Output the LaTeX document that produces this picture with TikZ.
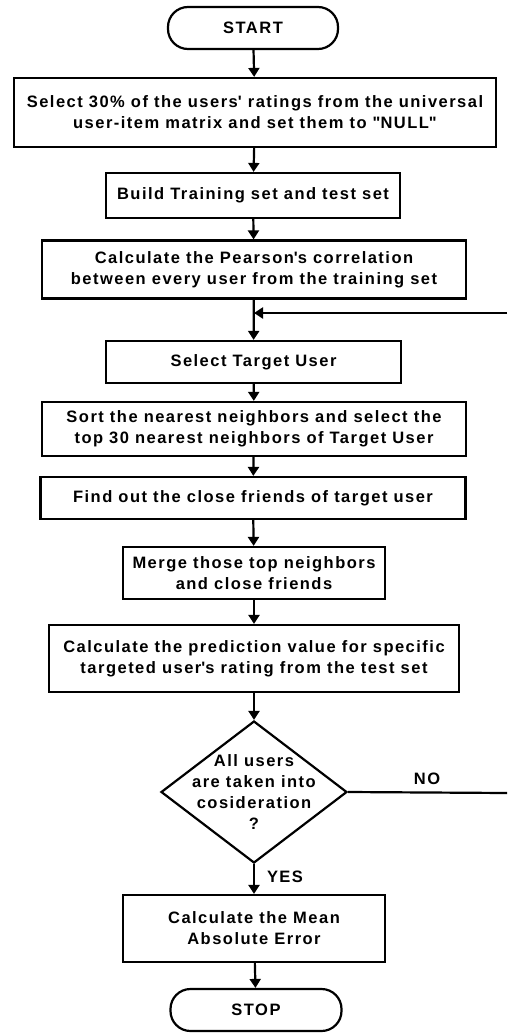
\documentclass[tikz,border=0pt]{standalone}
\usepackage{fontspec}
\setmainfont{Liberation Sans}[LetterSpace=9]
\usetikzlibrary{arrows.meta,shapes}

\tikzset{
  txt/.style={align=center,font=\bfseries\fontsize{16.5}{21}\selectfont},
  box/.style={txt,draw,line width=2.2pt,rectangle,inner sep=0pt},
  term/.style={box,rounded corners=20pt},
  decision/.style={draw,line width=2.2pt,diamond,inner sep=0pt,minimum width=186pt,minimum height=142pt},
  flow/.style={-{Triangle[length=9pt,width=11pt]},line width=2.2pt}
}

\begin{document}
\begin{tikzpicture}[x=1pt,y=-1pt]

\useasboundingbox (0,0) rectangle (507,1036);

  \node[term,minimum width=170pt,minimum height=42pt] (start) at (253,28) {START};
  \node[box,minimum width=482pt,minimum height=69pt] (select) at (255,112.5)
    {Select 30\% of the users\textquotesingle{} ratings from the universal\\user-item matrix and set them to \textquotedbl NULL\textquotedbl};
  \node[box,minimum width=294pt,minimum height=45pt] (build) at (253,195.5) {Build Training set and test set};
  \node[box,minimum width=424pt,minimum height=58pt] (pearson) at (254,269.5)
    {Calculate the Pearson\textquotesingle s correlation\\between every user from the training set};
  \node[box,minimum width=295pt,minimum height=42pt] (target) at (253.5,362) {Select Target User};
  \node[box,minimum width=424pt,minimum height=54pt] (sortnb) at (254,429)
    {Sort the nearest neighbors and select the\\top 30 nearest neighbors of Target User};
  \node[box,minimum width=425pt,minimum height=42pt] (friends) at (253,498) {Find out the close friends of target user};
  \node[box,minimum width=262pt,minimum height=52pt] (merge) at (254,573) {Merge those top neighbors\\and close friends};
  \node[box,minimum width=410pt,minimum height=67pt] (predict) at (254,658.5)
    {Calculate the prediction value for specific\\targeted user\textquotesingle s rating from the test set};
  \node[decision] (allusers) at (254,792) {};
  \node[txt] (allusers-txt) at (allusers) {All users\\are taken into\\cosideration\\?};
  \node[box,minimum width=262pt,minimum height=67pt] (mae) at (254,928.5) {Calculate the Mean\\Absolute Error};
  \node[term,minimum width=171pt,minimum height=42pt] (stop) at (256,1010) {STOP};

  \node[txt] (yes) at (285,877) {YES};
  \node[txt] (no) at (427,779) {NO};

  \coordinate (noend) at (507,793);
  \coordinate (loopin) at (507,313);

    \draw[flow] (start) -- (select);
    \draw[flow] (select) -- (build);
    \draw[flow] (build) -- (pearson);
    \draw[flow] (pearson) -- (target);
    \draw[flow] (target) -- (sortnb);
    \draw[flow] (sortnb) -- (friends);
    \draw[flow] (friends) -- (merge);
    \draw[flow] (merge) -- (predict);
    \draw[flow] (predict) -- (allusers);
    \draw[flow] (allusers) -- (mae);
    \draw[flow] (mae) -- (stop);
    \draw[line width=2.2pt] (allusers.east) -- (noend);
    \draw[flow] (loopin) -- (pearson.south |- loopin);

\end{tikzpicture}
\end{document}
